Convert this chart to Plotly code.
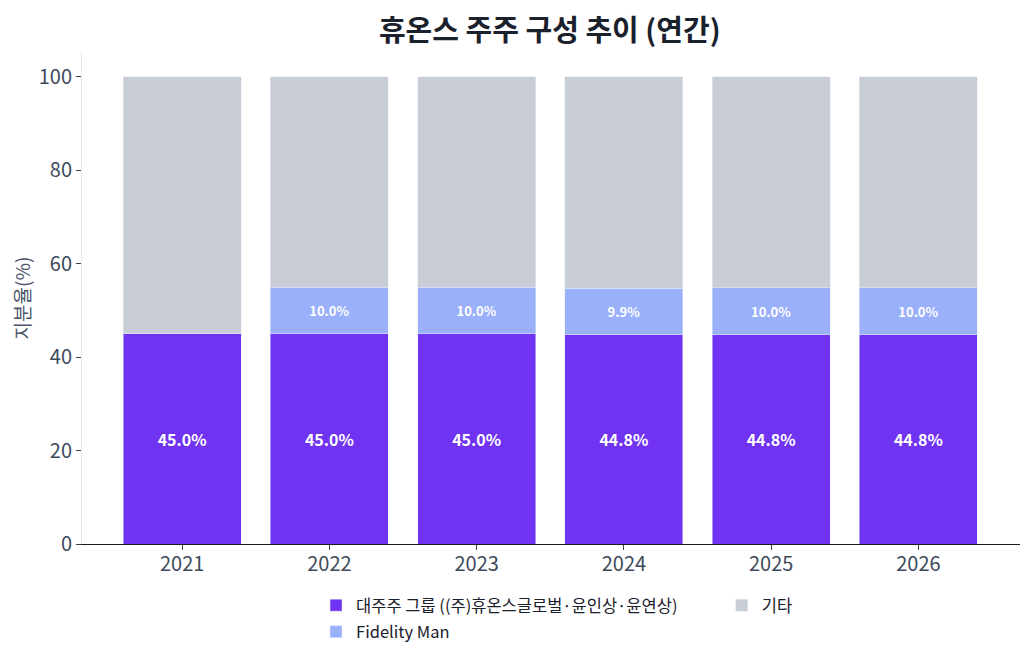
import plotly.graph_objects as go

years = ["2021", "2022", "2023", "2024", "2025", "2026"]
major = [45.0, 45.0, 45.0, 44.8, 44.8, 44.8]
fidelity = [0.0, 10.0, 10.0, 9.9, 10.0, 10.0]
others = [round(100 - a - b, 1) for a, b in zip(major, fidelity)]

names = ["대주주 그룹 ((주)휴온스글로벌·윤인상·윤연상)", "Fidelity Man", "기타"]
colors = ["#7033f2", "#9ab0fb", "#c9cdd6"]

FONT = "Noto Sans CJK KR"

fig = go.Figure()
fig.add_trace(go.Bar(
    x=years, y=major, name=names[0], marker_color=colors[0],
    legend="legend", legendgroup="g1",
    text=[f"{v:.1f}%" for v in major], textposition="inside", insidetextanchor="middle",
    textangle=0, textfont=dict(family=FONT, size=16, color="white", weight="bold"),
    hoverinfo="skip",
))
fig.add_trace(go.Bar(
    x=years, y=fidelity, name=names[1], marker_color=colors[1],
    legend="legend", legendgroup="g2",
    text=[f"{v:.1f}%" if v > 0 else "" for v in fidelity], textposition="inside",
    insidetextanchor="middle", textangle=0,
    textfont=dict(family=FONT, size=13, color="white", weight="bold"),
    hoverinfo="skip",
))
fig.add_trace(go.Bar(
    x=years, y=others, name=names[2], marker_color=colors[2],
    legend="legend2",
    hoverinfo="skip",
))

legend_font = dict(family=FONT, size=16.5, color="#1a202c")

fig.update_layout(
    barmode="stack",
    bargap=0.2,
    width=1030, height=657,
    margin=dict(l=74, r=18, t=44, b=121, autoexpand=False),
    paper_bgcolor="white", plot_bgcolor="white",
    font=dict(family=FONT, color="#3d4a5c"),
    title=dict(text="휴온스 주주 구성 추이 (연간)", x=0.526, xanchor="center",
               y=0.965, yanchor="middle",
               font=dict(family=FONT, size=29, color="#1a202c", weight="bold")),
    showlegend=True,
    legend=dict(orientation="v", x=0.2495, xanchor="left", y=-0.0894, yanchor="top",
                font=legend_font, traceorder="grouped", tracegroupgap=2,
                bgcolor="rgba(0,0,0,0)"),
    legend2=dict(orientation="v", x=0.682, xanchor="left", y=-0.0894, yanchor="top",
                 font=legend_font, bgcolor="rgba(0,0,0,0)"),
)
fig.update_xaxes(
    type="category", range=[-0.68, 5.69],
    showline=True, linecolor="#1a1a1a", linewidth=1,
    ticks="outside", ticklen=5, tickcolor="#444", ticklabelstandoff=-3,
    tickfont=dict(family=FONT, size=20, color="#3d4a5c"),
    showgrid=False, zeroline=False,
)
fig.update_yaxes(
    range=[0, 105.3], tickvals=[0, 20, 40, 60, 80, 100],
    showline=True, linecolor="#e5e7eb", linewidth=1,
    ticks="outside", ticklen=5, tickcolor="#444",
    tickfont=dict(family=FONT, size=20, color="#3d4a5c"),
    showgrid=False, zeroline=False,
    title=dict(text="지분율(%)", font=dict(family=FONT, size=19, color="#4a5568"), standoff=14),
)

fig.write_html("out.html")
